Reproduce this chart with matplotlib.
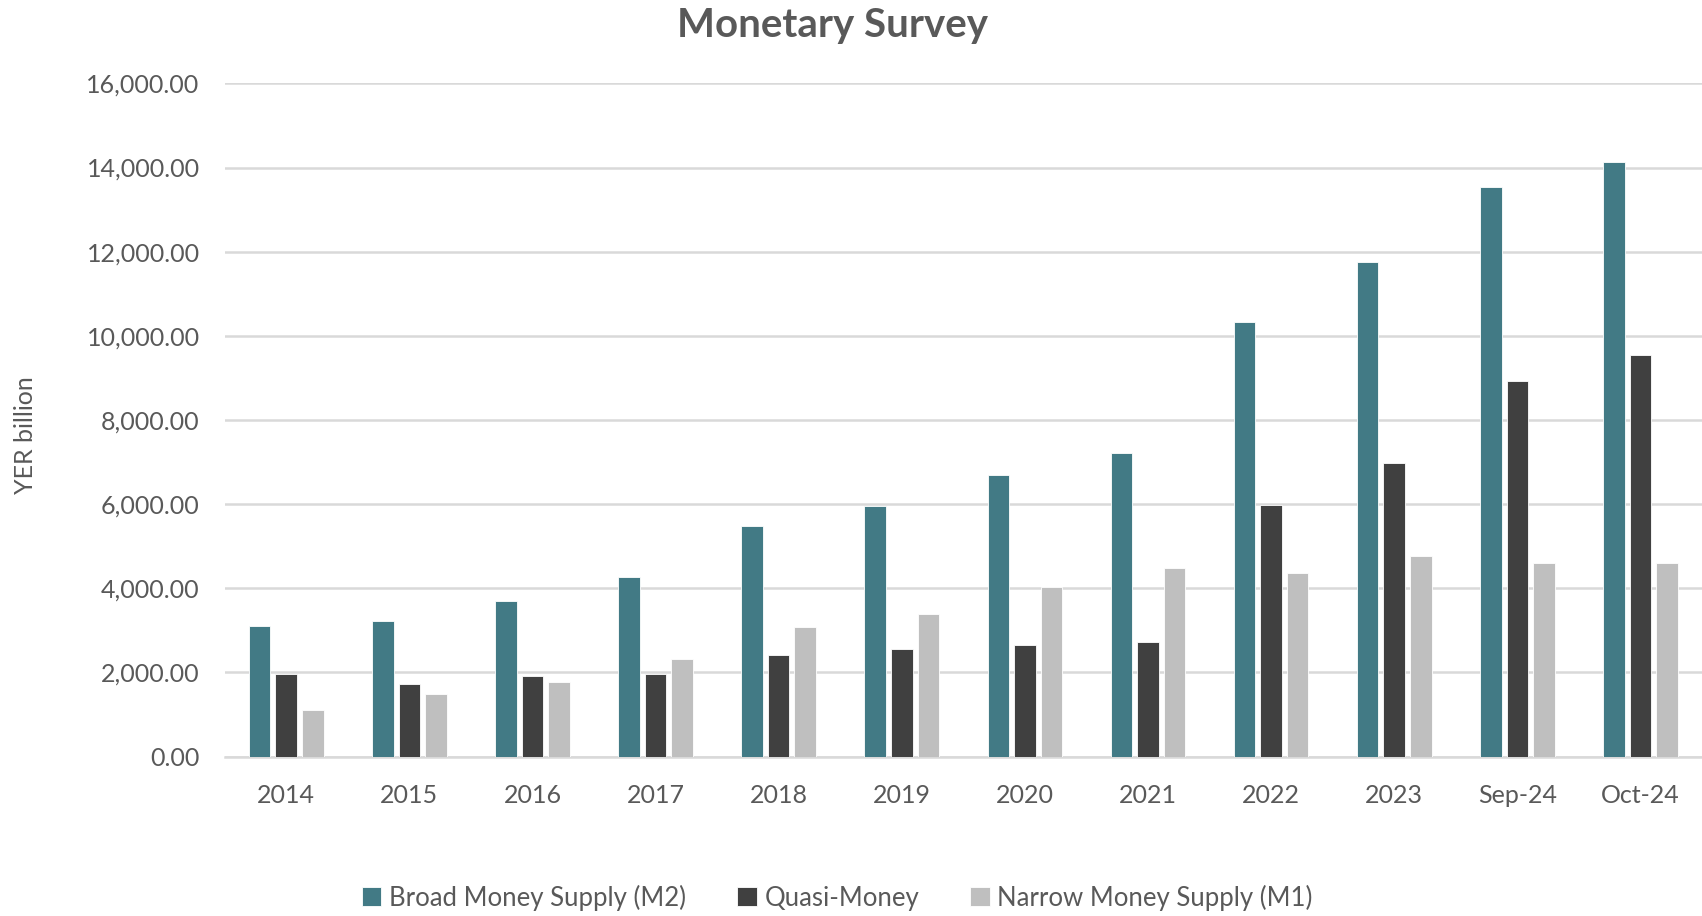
import numpy as np
import matplotlib.pyplot as plt
from matplotlib.ticker import FuncFormatter

# Valores (miles de millones de YER)
periods = ['2014', '2015', '2016', '2017', '2018', '2019', '2020', '2021',
           '2022', '2023', 'Sep-24', 'Oct-24']
m2 = [3095, 3220, 3690, 4280, 5490, 5950, 6700, 7215, 10335, 11750, 13530, 14120]
quasi = [1960, 1725, 1905, 1955, 2420, 2550, 2650, 2730, 5980, 6985, 8915, 9535]
m1 = [1110, 1495, 1780, 2320, 3090, 3400, 4020, 4485, 4355, 4770, 4610, 4600]

series_names = ['Broad Money Supply (M2)', 'Quasi-Money', 'Narrow Money Supply (M1)']
colors = ['#427a85', '#404040', '#bfbfbf']
txt = '#595959'

plt.rcParams['font.family'] = ['Lato', 'DejaVu Sans']

fig = plt.figure(figsize=(17.02, 9.16), dpi=100)
ax = fig.add_axes([0.132, 0.174, 0.868, 0.735])

x = np.arange(len(periods))
w = 0.175
off = 0.216
for i, (vals, name, c) in enumerate(zip([m2, quasi, m1], series_names, colors)):
    ax.bar(x + (i - 1) * off, vals, width=w, color=c, label=name,
           edgecolor='white', linewidth=0.6, zorder=3)

ax.set_xlim(-0.5, len(periods) - 0.5)
ax.set_ylim(0, 16000)
ax.set_yticks(np.arange(0, 16001, 2000))
ax.yaxis.set_major_formatter(FuncFormatter(lambda v, p: f'{v:,.2f}'))
ax.set_xticks(x)
ax.set_xticklabels(periods)
ax.tick_params(axis='both', length=0, labelsize=18, colors=txt)
ax.tick_params(axis='x', pad=20)
ax.tick_params(axis='y', pad=18)
ax.grid(axis='y', color='#d9d9d9', linewidth=1.8, zorder=0)
for s in ['top', 'right', 'left']:
    ax.spines[s].set_visible(False)
ax.spines['bottom'].set_color('#d9d9d9')
ax.spines['bottom'].set_linewidth(1.8)

fig.text(0.008, 0.525, 'YER billion', rotation=90, fontsize=18, color=txt,
         ha='left', va='center')
fig.text(0.489, 0.972, 'Monetary Survey', fontsize=29, fontweight='bold',
         color=txt, ha='center', va='center')

leg = fig.legend(loc='center', bbox_to_anchor=(0.492, 0.02), ncol=3, frameon=False,
                 fontsize=18.5, handlelength=0.75, handleheight=0.75,
                 handletextpad=0.3, columnspacing=2.0)
for t in leg.get_texts():
    t.set_color(txt)

fig.savefig('out.png', dpi=100)
